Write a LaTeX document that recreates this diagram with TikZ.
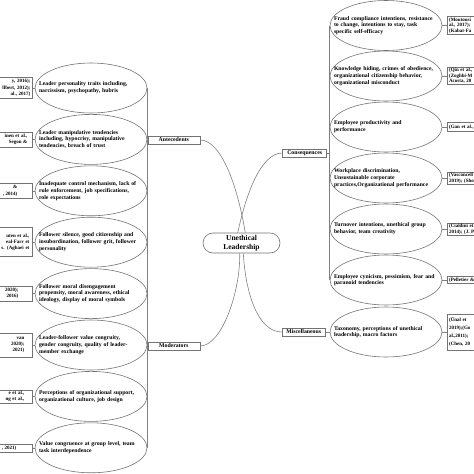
\documentclass[tikz,border=0pt]{standalone}
\usepackage{fontspec}
\setmainfont{Liberation Serif}
\usetikzlibrary{positioning,shapes.geometric}

\begin{document}
\begin{tikzpicture}[x=1pt,y=-1pt,
  link/.style={line width=.6pt,black!50},
  topic/.style={draw=black!55,line width=.6pt,ellipse,text width=104pt,align=left,
    inner xsep=-14pt,inner ysep=0pt,minimum width=112pt,minimum height=50pt,
    font=\fontsize{5.75}{6.8}\selectfont\bfseries},
  branch/.style={draw=black!55,line width=.6pt,fill=white,inner sep=0pt,
    minimum height=8pt,font=\fontsize{5.8}{7}\selectfont\bfseries},
  citeL/.style={draw=black!55,line width=.6pt,text width=50pt,align=right,
    inner ysep=1pt,font=\fontsize{5}{6.3}\selectfont\bfseries},
  citeR/.style={draw=black!55,line width=.6pt,text width=40pt,align=left,
    inner xsep=1.5pt,inner ysep=1pt,font=\fontsize{5}{5.6}\selectfont\bfseries}]
 \useasboundingbox (0,0) rectangle (474,474);
 \clip (0,0) rectangle (474,474);

 \node[draw=black!55,line width=.6pt,rounded corners=10pt,fill=white,
   minimum width=77pt,minimum height=20pt,align=center,inner sep=0pt,
   font=\fontsize{7.5}{9}\selectfont\bfseries] (ul) at (241.5,243) {Unethical\\Leadership};

 \node[topic] (a1) at (91,88) {Leader personality traits including,\\narcissism, psychopathy, hubris};
 \node[topic] (a2) at (91,139.4) {Leader manipulative tendencies\\including, hypocrisy, manipulative\\tendencies, breach of trust};
 \node[topic] (a3) at (91,190.8) {Inadequate control mechanism, lack of\\rule enforcement, job specifications,\\role expectations};
 \node[topic] (a4) at (91,242.2) {Follower silence, good citizenship and\\insubordination, follower grit, follower\\personality};
 \node[topic] (a5) at (91,293.6) {Follower moral disengagement\\propensity, moral awareness, ethical\\ideology, display of moral symbols};
 \node[topic] (a6) at (91,345) {Leader-follower value congruity,\\gender congruity, quality of leader-\\member exchange};
 \node[topic] (a7) at (91,396.4) {Perceptions of organizational support,\\organizational culture, job design};
 \node[topic] (a8) at (91,447.8) {Value congruence at group level, team\\task interdependence};

 \node[topic] (c1) at (386,25.5) {Fraud compliance intentions, resistance\\to change, intentions to stay, task\\specific self-efficacy};
 \node[topic] (c2) at (386,76) {Knowledge hiding, crimes of obedience,\\organizational citizenship behavior,\\organizational misconduct};
 \node[topic] (c3) at (386,127) {Employee productivity and\\performance};
 \node[topic] (c4) at (386,178) {Workplace discrimination,\\Unsustainable corporate\\practices,Organizational performance};
 \node[topic] (c5) at (386,229) {Turnover intentions, unethical group\\behavior, team creativity};
 \node[topic] (c6) at (386,280) {Employee cynicism, pessimism, fear and\\paranoid tendencies};
 \node[topic] (m1) at (386,332) {Taxonomy, perceptions of unethical\\leadership, macro factors};

 \node[branch,anchor=west,minimum width=52pt] (ant) at (147.5,140) {Antecedents};
 \node[branch,anchor=west,minimum width=52pt] (mod) at (147.5,346) {Moderators};
 \node[branch,anchor=east,minimum width=44pt] (cons) at (327,153) {Consequences};
 \node[branch,anchor=east,minimum width=43pt] (mis) at (325.5,332) {Miscellaneous};

 \node[citeL,inner xsep=2pt,minimum height=21pt,left=2pt of a1] (l1) {y, 2016);\\llbert, 2012);\\al., 2017)};
 \node[citeL,inner xsep=5pt,minimum height=15pt,left=2pt of a2] (l2) {inen et al.,\\Segon \&};
 \node[citeL,inner xsep=15pt,minimum height=15pt,left=2pt of a3] (l3) {\&\\, 2014)};
 \node[citeL,inner xsep=3pt,minimum height=29pt,left=2pt of a4] (l4) {uten et al.,\\eal-Farr et\\s. (Aghaei et};
 \node[citeL,inner xsep=14pt,minimum height=15pt,left=2pt of a5] (l5) {2020);\\2016)};
 \node[citeL,inner xsep=8pt,minimum height=24pt,left=2pt of a6] (l6) {van\\2020);\\2021)};
 \node[citeL,inner xsep=8pt,minimum height=13pt,left=2pt of a7] (l7) {e et al.,\\ng et al.,};
 \node[citeL,inner xsep=16pt,minimum height=8pt,left=2pt of a8] (l8) {, 2021)};

 \node[citeR,minimum height=17pt,right=5pt of c1] (r1) {(Moutousi\\al., 2017);\\(Kabat-Fa};
 \node[citeR,minimum height=16pt,right=5pt of c2] (r2) {(Qin et al.,\\(Zoghbi-M\\Acosta, 20};
 \node[citeR,minimum height=9pt,right=5pt of c3] (r3) {(Gan et al.,};
 \node[citeR,minimum height=12pt,right=5pt of c4] (r4) {(Vasconcell\\2019); (Sho};
 \node[citeR,minimum height=12pt,right=5pt of c5] (r5) {(Cialdini et\\2014); (J. P};
 \node[citeR,minimum height=7pt,right=5pt of c6] (r6) {(Pelletier \&};
 \node[citeR,minimum height=36pt,font=\fontsize{5}{7.8}\selectfont\bfseries,right=5pt of m1] (r7) {(Ünal et\\2019);(Go\\al.,2011);\\(Chen, 20};

 \draw[link] (a1.east) -- (a8.east);
 \draw[link] (c1.west) -- (c6.west);
 \draw[link] (cons.east) -- (cons.east -| c1.west);
 \draw[link] (mis) -- (m1);
 \foreach \k in {1,...,8}{\draw[link] (l\k) -- (a\k);}
 \foreach \k in {1,...,6}{\draw[link] (c\k) -- (r\k);}
 \draw[link] (m1) -- (r7);

 \draw[link] (ul.70) .. controls +(-7,-43) and +(22,0) .. (ant.east);
 \draw[link] (ul.110) .. controls +(7,-33) and +(-23,0) .. (cons.west);
 \draw[link] (ul.-100) .. controls +(1,37) and +(22,0) .. (mod.east);
 \draw[link] (ul.-80) .. controls +(2,37) and +(-25,0) .. (mis.west);
\end{tikzpicture}
\end{document}
